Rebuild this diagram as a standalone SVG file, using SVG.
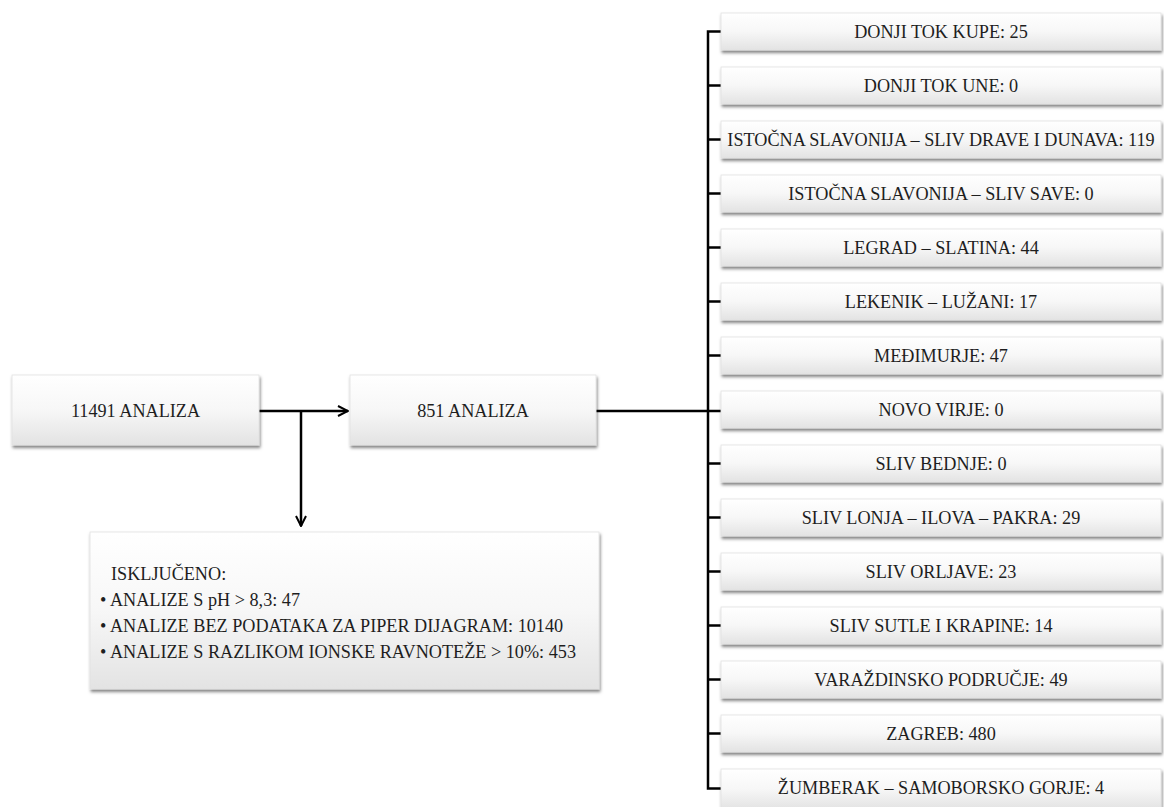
<svg xmlns="http://www.w3.org/2000/svg" width="1164" height="807" viewBox="0 0 1164 807">
<defs>
<linearGradient id="g" x1="0" y1="0" x2="0" y2="1">
<stop offset="0" stop-color="#ffffff"/>
<stop offset="0.5" stop-color="#f7f7f7"/>
<stop offset="1" stop-color="#e3e3e3"/>
</linearGradient>
<filter id="sh" x="-5%" y="-20%" width="112%" height="150%">
<feDropShadow dx="1" dy="2.5" stdDeviation="1.6" flood-color="#000" flood-opacity="0.5"/>
</filter>
<marker id="arr" viewBox="0 0 12 12" refX="11" refY="6" markerWidth="12" markerHeight="12" markerUnits="userSpaceOnUse" orient="auto">
<path d="M1,1 L11,6 L1,11" fill="none" stroke="#000" stroke-width="2"/>
</marker>
</defs>
<style>
.box{fill:url(#g);stroke:#e2e2e2;stroke-width:0.8;filter:url(#sh)}
.t{font-family:"Liberation Serif","Times New Roman",serif;font-size:18.2px;fill:#1e1e1e}
.c{text-anchor:middle}
.ln{fill:none;stroke:#000;stroke-width:2.5}
</style>
<rect width="1164" height="807" fill="#fff"/>

<g id="connectors">
<path class="ln" d="M259,411 H348" marker-end="url(#arr)"/>
<path class="ln" d="M301,411 V526" marker-end="url(#arr)"/>
<path class="ln" d="M596,411 H721"/>
<path class="ln" d="M721,31.5 H708 V788.5 H721"/>
<path class="ln" d="M708,85.5 H721 M708,139.5 H721 M708,193.5 H721 M708,247.5 H721 M708,301.5 H721 M708,355.5 H721 M708,463.5 H721 M708,517.5 H721 M708,571.5 H721 M708,625.5 H721 M708,679.5 H721 M708,733.5 H721"/>
</g>

<g id="n-11491">
<rect class="box" x="12" y="375" width="247" height="70"/>
<text class="t c" x="135.5" y="417">11491 ANALIZA</text>
</g>
<g id="n-851">
<rect class="box" x="350" y="375" width="246" height="70"/>
<text class="t c" x="473" y="417">851 ANALIZA</text>
</g>
<g id="n-iskljuceno">
<rect class="box" x="90" y="532" width="509" height="157"/>
<text class="t" x="111" y="580">ISKLJUČENO:</text>
<text class="t" x="100" y="606">• ANALIZE S pH &gt; 8,3: 47</text>
<text class="t" x="100" y="632">• ANALIZE BEZ PODATAKA ZA PIPER DIJAGRAM: 10140</text>
<text class="t" x="100" y="658">• ANALIZE S RAZLIKOM IONSKE RAVNOTEŽE &gt; 10%: 453</text>
</g>

<g id="r1"><rect class="box" x="721" y="13" width="440" height="37"/><text class="t c" x="941" y="38">DONJI TOK KUPE: 25</text></g>
<g id="r2"><rect class="box" x="721" y="67" width="440" height="37"/><text class="t c" x="941" y="92">DONJI TOK UNE: 0</text></g>
<g id="r3"><rect class="box" x="721" y="121" width="440" height="37"/><text class="t c" x="941" y="146">ISTOČNA SLAVONIJA – SLIV DRAVE I DUNAVA: 119</text></g>
<g id="r4"><rect class="box" x="721" y="175" width="440" height="37"/><text class="t c" x="941" y="200">ISTOČNA SLAVONIJA – SLIV SAVE: 0</text></g>
<g id="r5"><rect class="box" x="721" y="229" width="440" height="37"/><text class="t c" x="941" y="254">LEGRAD – SLATINA: 44</text></g>
<g id="r6"><rect class="box" x="721" y="283" width="440" height="37"/><text class="t c" x="941" y="308">LEKENIK – LUŽANI: 17</text></g>
<g id="r7"><rect class="box" x="721" y="337" width="440" height="37"/><text class="t c" x="941" y="362">MEĐIMURJE: 47</text></g>
<g id="r8"><rect class="box" x="721" y="391" width="440" height="37"/><text class="t c" x="941" y="416">NOVO VIRJE: 0</text></g>
<g id="r9"><rect class="box" x="721" y="445" width="440" height="37"/><text class="t c" x="941" y="470">SLIV BEDNJE: 0</text></g>
<g id="r10"><rect class="box" x="721" y="499" width="440" height="37"/><text class="t c" x="941" y="524">SLIV LONJA – ILOVA – PAKRA: 29</text></g>
<g id="r11"><rect class="box" x="721" y="553" width="440" height="37"/><text class="t c" x="941" y="578">SLIV ORLJAVE: 23</text></g>
<g id="r12"><rect class="box" x="721" y="607" width="440" height="37"/><text class="t c" x="941" y="632">SLIV SUTLE I KRAPINE: 14</text></g>
<g id="r13"><rect class="box" x="721" y="661" width="440" height="37"/><text class="t c" x="941" y="686">VARAŽDINSKO PODRUČJE: 49</text></g>
<g id="r14"><rect class="box" x="721" y="715" width="440" height="37"/><text class="t c" x="941" y="740">ZAGREB: 480</text></g>
<g id="r15"><rect class="box" x="721" y="769" width="440" height="40"/><text class="t c" x="941" y="794">ŽUMBERAK – SAMOBORSKO GORJE: 4</text></g>
</svg>
